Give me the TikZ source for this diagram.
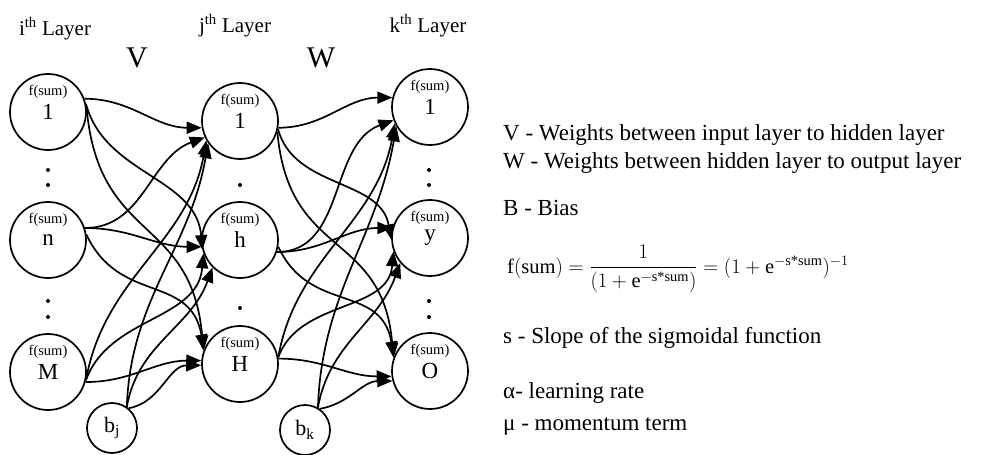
\documentclass[tikz,border=0pt]{standalone}
\usepackage{amsmath}
\usepackage{fontspec}
\setmainfont{Liberation Serif}
\usetikzlibrary{arrows.meta}
\begin{document}
\begin{tikzpicture}[x=1pt,y=1pt,
  neuron/.style={circle,draw,line width=1.7pt,minimum size=76pt,inner sep=0pt,font=\fontsize{23}{23}\selectfont,label={[fsum]90:f(sum)}},
  fsum/.style={font=\fontsize{14.5}{14.5}\selectfont,label distance=-29pt},
  bias/.style={circle,draw,line width=1.7pt,minimum size=50pt,inner sep=0pt,font=\fontsize{22}{22}\selectfont},
  wire/.style={line width=1.7pt,-{Triangle[length=15pt,width=12pt]}},
  layer/.style={anchor=base,font=\fontsize{21}{21}\selectfont},
  weight/.style={anchor=base,font=\fontsize{30}{30}\selectfont},
  legend/.style={anchor=base west,inner sep=0pt,font=\fontsize{23}{27}\selectfont}]
\useasboundingbox (0,0) rectangle (989,-455);
\node[layer] (li) at (55,-35) {i\textsuperscript{th} Layer};
\node[layer] (lj) at (235,-32) {j\textsuperscript{th} Layer};
\node[layer] (lk) at (428,-32) {k\textsuperscript{th} Layer};
\node[weight] (wv) at (137,-67) {V};
\node[weight] (ww) at (321,-67) {W};
\node[neuron] (x1) at (48,-112) {1};
\node[neuron] (xn) at (48,-240) {n};
\node[neuron] (xM) at (48,-372) {M};
\node[bias] (bj) at (112,-428) {b\textsubscript{j}};
\node[neuron] (h1) at (240,-121) {1};
\node[neuron] (hh) at (240,-240) {h};
\node[neuron] (hH) at (240,-364) {H};
\node[neuron] (o1) at (430,-107) {1};
\node[neuron] (oy) at (430,-238) {y};
\node[neuron] (oO) at (430,-371) {O};
\node[bias] (bk) at (305,-430) {b\textsubscript{k}};
\foreach \y in {170,185,301,317} {
  \fill (48,-\y) circle (2);
  \fill (429,-\y) circle (2);
}
\fill (240,-185) circle (2);
\fill (240,-308) circle (2);
% V
\draw[wire] (x1.20) to[out=0,in=180] (h1.190);
\draw[wire] (x1.12) to[out=-75,in=95] (hh.195);
\draw[wire] (x1.6) to[out=-85,in=95,looseness=1.3] (hH.160);
\draw[wire] (xn.18) to[out=0,in=200] (h1.205);
\draw[wire] (xn.18) to[out=0,in=180] (hh.190);
\draw[wire] (xn.8) to[out=-65,in=100,looseness=1.2] (hH.158);
\draw[wire] (xM.-12) to[out=80,in=-100] (h1.210);
\draw[wire] (xM.-12) to[out=70,in=-95] (hh.200);
\draw[wire] (xM.-15) to[out=0,in=180] (hH.175);
\draw[wire] (bj.55) to[out=88,in=-100] (h1.215);
\draw[wire] (bj.55) to[out=80,in=-110] (hh.225);
\draw[wire] (bj.50) to[out=10,in=180] (hH.182);
% W
\draw[wire] (h1.-10) to[out=0,in=180] (o1.166);
\draw[wire] (h1.-12) to[out=-75,in=100] (oy.182);
\draw[wire] (h1.-16) to[out=-85,in=95,looseness=1.3] (oO.160);
\draw[wire] (hh.-18) to[out=0,in=200] (o1.200);
\draw[wire] (hh.-18) to[out=0,in=180] (oy.165);
\draw[wire] (hh.-10) to[out=-65,in=100,looseness=1.2] (oO.158);
\draw[wire] (hH.10) to[out=80,in=-100] (o1.205);
\draw[wire] (hH.10) to[out=70,in=-95] (oy.200);
\draw[wire] (hH.8) to[out=0,in=180] (oO.188);
\draw[wire] (bk.60) to[out=88,in=-100] (o1.210);
\draw[wire] (bk.60) to[out=80,in=-110] (oy.220);
\draw[wire] (bk.55) to[out=10,in=180] (oO.195);
% legend
\node[legend] (tv) at (503,-140) {V - Weights between input layer to hidden layer};
\node[legend] (tw) at (503,-168) {W - Weights between hidden layer to output layer};
\node[legend] (tb) at (503,-215) {B - Bias};
\node[legend,font=\fontsize{20.5}{24}\selectfont] (tf) at (507,-273) {$\mathrm{f(sum)}=\dfrac{1}{(1+\mathrm{e}^{-\text{s*sum}})}=(1+\mathrm{e}^{-\text{s*sum}})^{-1}$};
\node[legend] (ts) at (503,-343) {s - Slope of the sigmoidal function};
\node[legend] (ta) at (503,-398) {α- learning rate};
\node[legend] (tm) at (503,-430) {μ - momentum term};
\end{tikzpicture}
\end{document}
